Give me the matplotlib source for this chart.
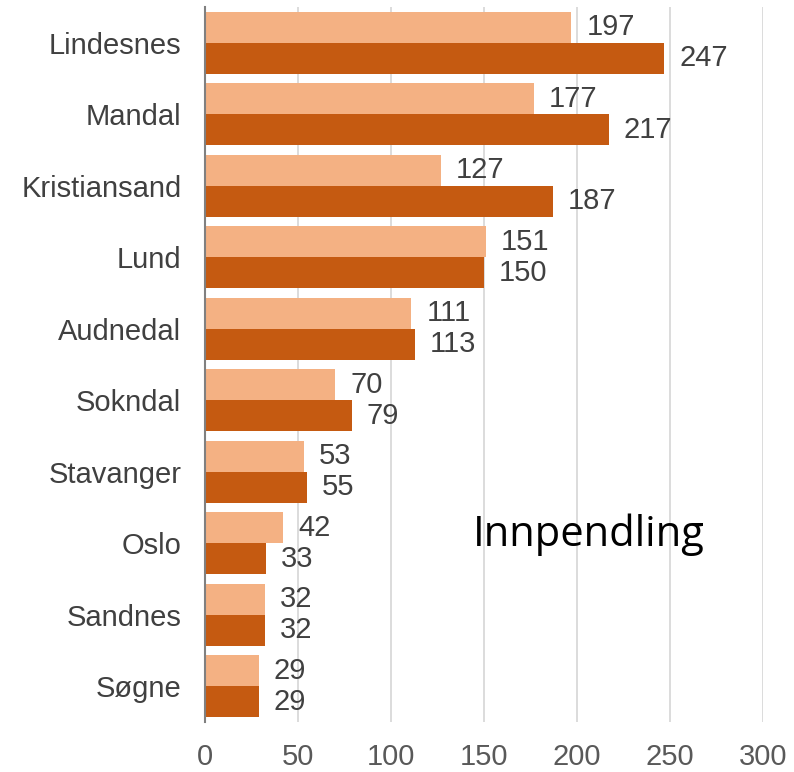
import numpy as np
import matplotlib.pyplot as plt

# data
kommuner = ["Lindesnes", "Mandal", "Kristiansand", "Lund", "Audnedal",
            "Sokndal", "Stavanger", "Oslo", "Sandnes", "Søgne"]
serie_lys = [197, 177, 127, 151, 111, 70, 53, 42, 32, 29]
serie_mork = [247, 217, 187, 150, 113, 79, 55, 33, 32, 29]
x_ticks = [0, 50, 100, 150, 200, 250, 300]

plt.rcParams['font.family'] = ['Liberation Sans', 'DejaVu Sans']

fig = plt.figure(figsize=(7.94, 7.72), dpi=100)
ax = fig.add_axes([205 / 794, 1 - 722 / 772, (763 - 205) / 794, (722 - 7) / 772])

y = np.arange(len(kommuner))
h = 0.435
ax.barh(y - h / 2, serie_lys, height=h, color="#F4B183", zorder=2)
ax.barh(y + h / 2, serie_mork, height=h, color="#C55A11", zorder=2)

for yi, v in zip(y, serie_lys):
    ax.text(v + 8, yi - h / 2, str(v), va="center", ha="left", fontsize=21, color="#404040")
for yi, v in zip(y, serie_mork):
    ax.text(v + 8, yi + h / 2, str(v), va="center", ha="left", fontsize=21, color="#404040")

ax.set_ylim(len(kommuner) - 0.5, -0.5)
ax.set_xlim(0, 300)
ax.set_yticks(y)
ax.set_yticklabels(kommuner, fontsize=21, color="#404040")
ax.set_xticks(x_ticks)
ax.set_xticklabels([str(t) for t in x_ticks], fontsize=21, color="#595959")
ax.tick_params(axis="both", length=0)
ax.tick_params(axis="x", pad=15)
ax.tick_params(axis="y", pad=17)

ax.grid(axis="x", color="#D9D9D9", linewidth=1.3, zorder=0)
for s in ["top", "right", "bottom"]:
    ax.spines[s].set_visible(False)
ax.spines["left"].set_color("#808080")
ax.spines["left"].set_linewidth(1.5)
ax.spines["left"].set_zorder(3)

ax.text(144, 6.88, "Innpendling", fontsize=30, color="black",
        family=["Open Sans", "DejaVu Sans"], va="center", ha="left")

fig.savefig("out.png", dpi=100)
